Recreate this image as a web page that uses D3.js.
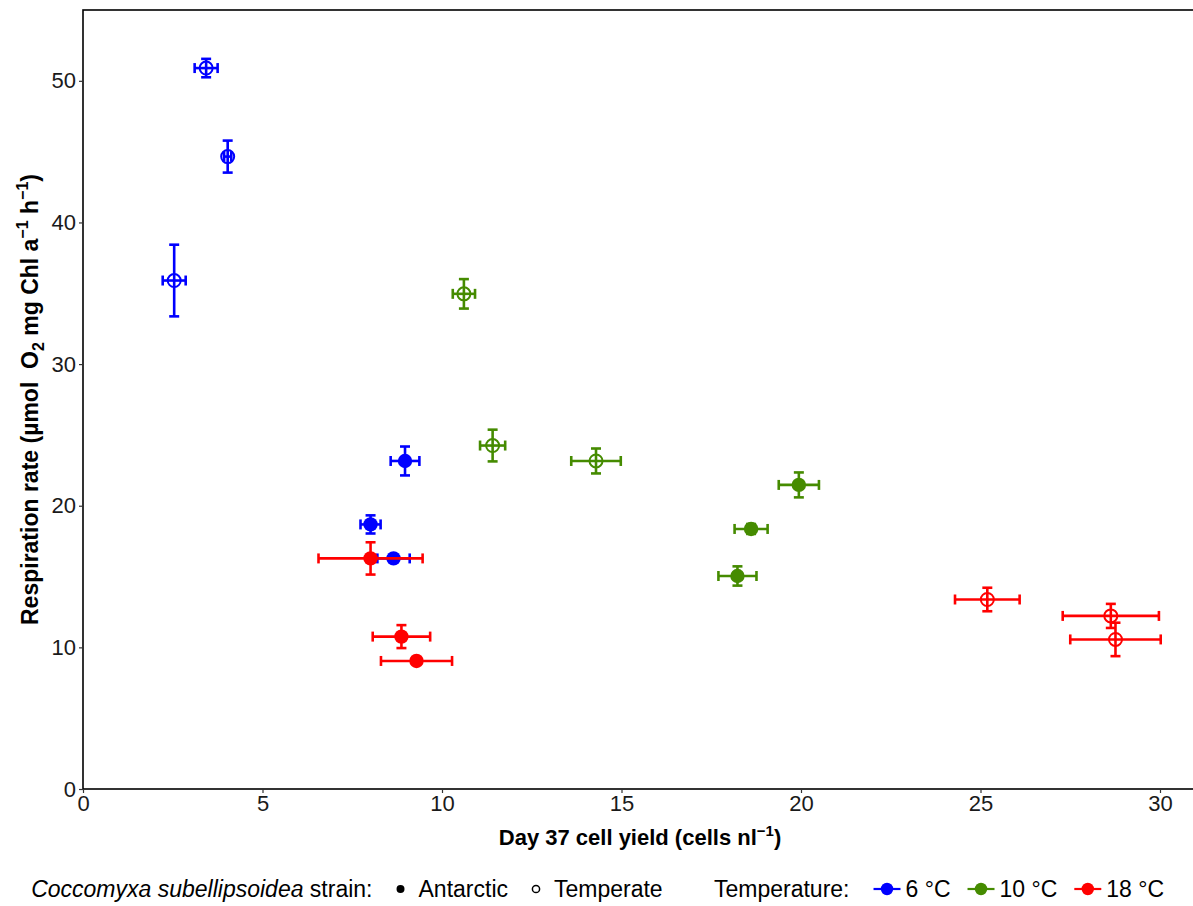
<!DOCTYPE html>
<html>
<head>
<meta charset="utf-8">
<script src="https://cdn.jsdelivr.net/npm/d3@7"></script>
<style>
  body { margin: 0; background: #fff; }
  svg { display: block; font-family: "Liberation Sans", Arial, sans-serif; }
</style>
</head>
<body>
<svg id="chart" width="1193" height="906"></svg>
<script>
// data: mean cell yield (x), respiration rate (y) and their errors
const strain = ['T','T','T','A','A','A', 'A','A','A','T','T','T', 'T','T','T','A','A','A'];
const temp   = [6,6,6,6,6,6, 18,18,18,18,18,18, 10,10,10,10,10,10];
const yieldX = [3.43, 4.03, 2.54, 8.97, 8.01, 8.65, 8.01, 8.87, 9.29, 25.19, 28.63, 28.76, 10.61, 11.41, 14.29, 19.94, 18.61, 18.23];
const xErr   = [0.32, 0.10, 0.32, 0.40, 0.28, 0.45, 1.45, 0.80, 0.99, 0.90, 1.34, 1.26, 0.31, 0.35, 0.69, 0.56, 0.46, 0.53];
const respY  = [50.9, 44.65, 35.9, 23.16, 18.68, 16.28, 16.28, 10.76, 9.04, 13.38, 12.22, 10.56, 34.96, 24.25, 23.16, 21.47, 18.36, 15.04];
const yErr   = [0.65, 1.13, 2.53, 1.02, 0.64, 0.10, 1.14, 0.81, 0.15, 0.83, 0.85, 1.18, 1.04, 1.12, 0.88, 0.88, 0.35, 0.68];

const xTicks = [0, 5, 10, 15, 20, 25, 30];
const yTicks = [0, 10, 20, 30, 40, 50];
const temps = [6, 10, 18];
const tempLabels = ['6 \u00b0C', '10 \u00b0C', '18 \u00b0C'];
const tempColors = ['#0000ff', '#458b00', '#ff0000'];

const svg = d3.select('#chart');
const mLeft = 83, mTop = 10, mBottom = 789;

const x = d3.scaleLinear().domain([0, 31]).range([mLeft, mLeft + 31 * 35.9]);
const y = d3.scaleLinear().domain([0, 55]).range([mBottom, mTop]);
const color = d3.scaleOrdinal().domain(temps).range(tempColors);

// panel border
svg.append('rect')
  .attr('x', mLeft).attr('y', mTop)
  .attr('width', x(31) - mLeft).attr('height', mBottom - mTop)
  .attr('fill', 'none').attr('stroke', '#000').attr('stroke-width', 1.6);

// axes
const xAxis = svg.append('g')
  .attr('transform', 'translate(0,' + mBottom + ')')
  .call(d3.axisBottom(x).tickValues(xTicks).tickSize(4).tickPadding(2));
const yAxis = svg.append('g')
  .attr('transform', 'translate(' + mLeft + ',0)')
  .call(d3.axisLeft(y).tickValues(yTicks).tickSize(4).tickPadding(3));
[xAxis, yAxis].forEach(g => {
  g.select('.domain').remove();
  g.selectAll('line').attr('stroke', '#333').attr('stroke-width', 1.2);
  g.selectAll('text').attr('font-size', 22).attr('fill', '#1a1a1a')
    .attr('font-family', '"Liberation Sans", Arial, sans-serif');
});

// points with error bars
const pts = yieldX.map((v, i) => ({ x: v, y: respY[i], ex: xErr[i], ey: yErr[i], t: temp[i], s: strain[i] }));
const cap = 5;
const g = svg.append('g');
pts.forEach(d => {
  const c = color(d.t);
  const p = g.append('g').attr('stroke', c).attr('stroke-width', 2.6);
  const cx = x(d.x), cy = y(d.y);
  p.append('line').attr('x1', x(d.x - d.ex)).attr('x2', x(d.x + d.ex)).attr('y1', cy).attr('y2', cy);
  p.append('line').attr('x1', x(d.x - d.ex)).attr('x2', x(d.x - d.ex)).attr('y1', cy - cap).attr('y2', cy + cap);
  p.append('line').attr('x1', x(d.x + d.ex)).attr('x2', x(d.x + d.ex)).attr('y1', cy - cap).attr('y2', cy + cap);
  p.append('line').attr('x1', cx).attr('x2', cx).attr('y1', y(d.y - d.ey)).attr('y2', y(d.y + d.ey));
  p.append('line').attr('x1', cx - cap).attr('x2', cx + cap).attr('y1', y(d.y - d.ey)).attr('y2', y(d.y - d.ey));
  p.append('line').attr('x1', cx - cap).attr('x2', cx + cap).attr('y1', y(d.y + d.ey)).attr('y2', y(d.y + d.ey));
  if (d.s === 'A') {
    p.append('circle').attr('cx', cx).attr('cy', cy).attr('r', 7.2).attr('fill', c).attr('stroke', 'none');
  } else {
    p.append('circle').attr('cx', cx).attr('cy', cy).attr('r', 6.5).attr('fill', 'none').attr('stroke-width', 2);
  }
});

// axis titles
const xt = svg.append('text')
  .attr('x', 640).attr('y', 845).attr('text-anchor', 'middle')
  .attr('font-size', 22).attr('font-weight', 'bold');
xt.append('tspan').text('Day 37 cell yield (cells nl');
xt.append('tspan').attr('dy', -9).attr('font-size', 15).text('\u22121');
xt.append('tspan').attr('dy', 9).text(')');

const yt = svg.append('text')
  .attr('transform', 'translate(38,' + ((mTop + mBottom) / 2) + ') rotate(-90)')
  .attr('text-anchor', 'middle')
  .attr('font-size', 23).attr('font-weight', 'bold');
yt.append('tspan').text('Respiration rate (\u00b5mol\u00a0\u00a0O');
yt.append('tspan').attr('dy', 6).attr('font-size', 16).text('2');
yt.append('tspan').attr('dy', -6).text(' mg Chl a');
yt.append('tspan').attr('dy', -10).attr('font-size', 16).text('\u22121');
yt.append('tspan').attr('dy', 10).text(' h');
yt.append('tspan').attr('dy', -10).attr('font-size', 16).text('\u22121');
yt.append('tspan').attr('dy', 10).text(')');

// legend: strain group ends where "Temperate" sits, built right-to-left
const leg = svg.append('g').attr('font-size', 23).attr('fill', '#000');
const ly = 897;
leg.append('text').attr('x', 554).attr('y', ly).text('Temperate');
leg.append('circle').attr('cx', 536).attr('cy', ly - 8).attr('r', 3.6).attr('fill', 'none').attr('stroke', '#000').attr('stroke-width', 1.5);
const tAnt = leg.append('text').attr('y', ly).text('Antarctic');
const antX = 536 - 28 - tAnt.node().getComputedTextLength();
tAnt.attr('x', antX);
leg.append('circle').attr('cx', antX - 18).attr('cy', ly - 8).attr('r', 4).attr('fill', '#000');
const lt = leg.append('text').attr('y', ly);
lt.append('tspan').attr('font-style', 'italic').text('Coccomyxa subellipsoidea');
lt.append('tspan').text(' strain:');
lt.attr('x', antX - 18 - 28 - lt.node().getComputedTextLength());

// temperature group
let cur = 714;
const tt = leg.append('text').attr('x', cur).attr('y', ly).text('Temperature:');
cur += tt.node().getComputedTextLength() + 24;
temps.forEach((t, i) => {
  const c = color(t);
  leg.append('line').attr('x1', cur).attr('x2', cur + 27).attr('y1', ly - 8).attr('y2', ly - 8)
    .attr('stroke', c).attr('stroke-width', 2.2);
  leg.append('circle').attr('cx', cur + 13.5).attr('cy', ly - 8).attr('r', 6.2).attr('fill', c);
  const lab = leg.append('text').attr('x', cur + 32).attr('y', ly).text(tempLabels[i]);
  cur += 32 + lab.node().getComputedTextLength() + 17;
});
</script>
</body>
</html>
